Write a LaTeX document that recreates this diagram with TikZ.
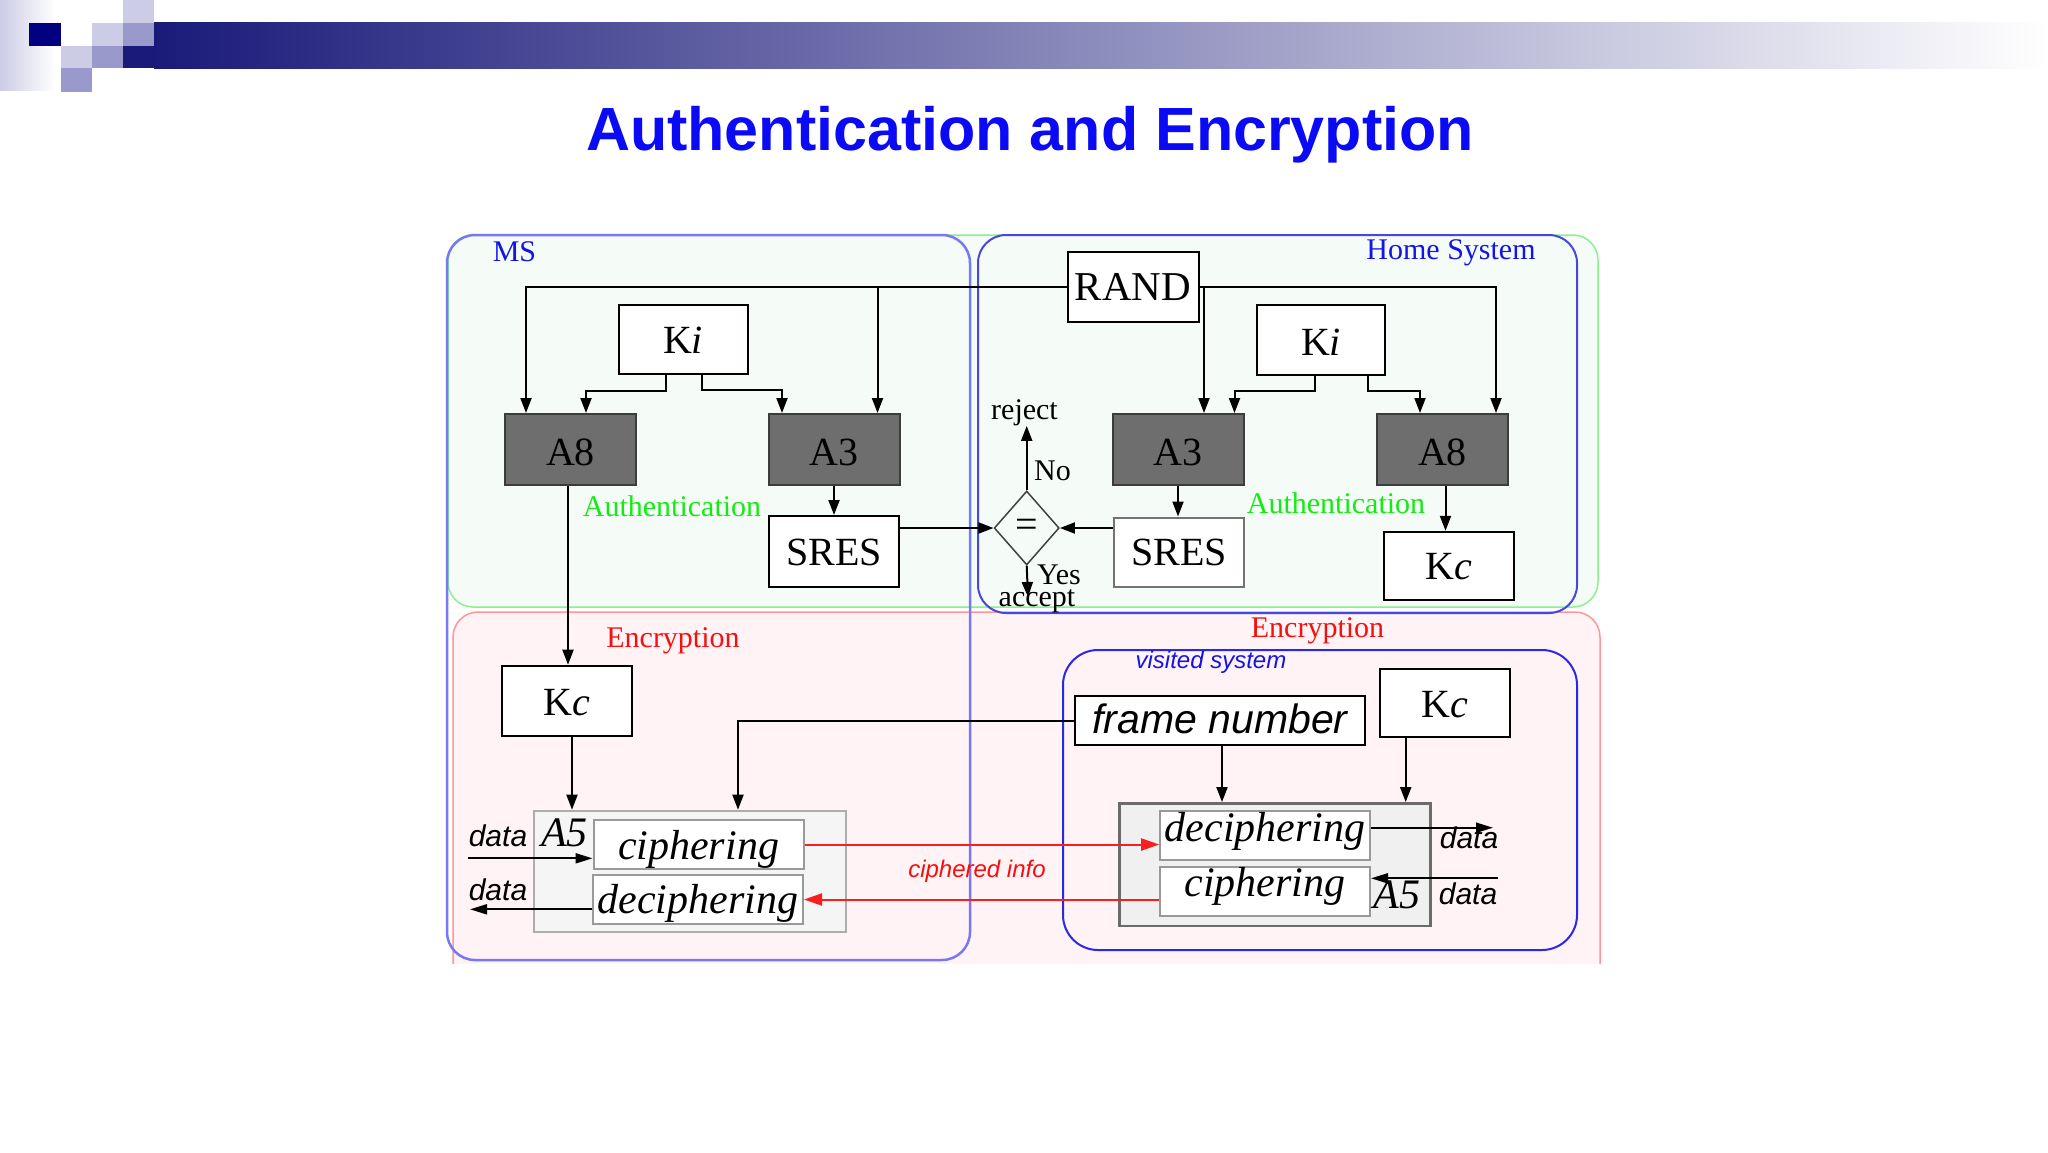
\documentclass[tikz,border=0pt]{standalone}
\usepackage{fontspec}
\setmainfont{Liberation Serif}
\newfontfamily\arialf{Liberation Sans}
\usetikzlibrary{arrows.meta,shapes.geometric}
\newcommand\myfs[1]{\fontsize{#1pt}{#1pt}\selectfont}
\definecolor{navyA}{RGB}{0,0,128}
\definecolor{lavL}{RGB}{204,204,230}
\definecolor{lavM}{RGB}{153,153,204}
\definecolor{barN}{RGB}{26,26,122}
\definecolor{barM}{RGB}{170,170,198}
\definecolor{titleblue}{RGB}{10,10,245}
\definecolor{mint}{RGB}{245,252,248}
\definecolor{pinkF}{RGB}{255,243,245}
\definecolor{greenL}{RGB}{140,240,140}
\definecolor{redL}{RGB}{255,150,150}
\definecolor{blueMS}{RGB}{120,120,245}
\definecolor{blueH}{RGB}{70,70,225}
\definecolor{blueV}{RGB}{40,40,230}
\definecolor{algogray}{RGB}{110,110,110}
\definecolor{algoborder}{RGB}{60,60,60}
\definecolor{txtgreen}{RGB}{20,235,20}
\definecolor{txtred}{RGB}{245,15,15}
\definecolor{txtblue}{RGB}{20,20,230}
\definecolor{arrred}{RGB}{250,30,30}
\begin{document}
\begin{tikzpicture}[x=1pt,y=-1pt,
  bl/.code={\pgfmathsetmacro\blh{20+#1}\pgfmathsetmacro\bld{20-#1}%
    \edef\blopts{text height=\blh pt,text depth=\bld pt}\expandafter\tikzset\expandafter{\blopts}},
  box/.style={draw=black, line width=2pt, fill=white, inner sep=0pt, font=\myfs{40}},
  algo/.style={box, fill=algogray, draw=algoborder, minimum width=131pt, minimum height=71pt, bl=15.5},
  cbox/.style={draw=black!40, line width=2pt, fill=white, inner sep=0pt,
    minimum width=210pt, minimum height=49pt, font=\itshape\myfs{42}},
  lab/.style={anchor=base, inner sep=0pt, font=\myfs{30}},
  conn/.style={line width=2pt, -{Triangle[length=15pt,width=11pt]}},
  darr/.style={line width=2pt, -{Triangle[length=17pt,width=10pt]}},
  redarr/.style={draw=arrred, line width=2pt, -{Triangle[length=18pt,width=12pt]}}]
\fill[white] (0,0) rectangle (2048,1152);
\useasboundingbox (0,0) rectangle (2048,1152);
% header decoration
\shade[left color=lavL, right color=white] (0,0) rectangle (55,90);
\fill[navyA] (29,23) rectangle (61,46);
\fill[lavL] (61,46) rectangle (92,68);
\fill[lavM] (61,68) rectangle (92,92);
\fill[lavL] (92,23) rectangle (123,46);
\fill[lavM] (92,46) rectangle (123,68);
\fill[lavL] (123,0) rectangle (154,23);
\fill[lavM] (123,23) rectangle (154,46);
\fill[barN] (123,46) rectangle (154,68.3);
\shade[left color=barN, middle color=barM, right color=white] (154,22.7) rectangle (2048,68.3);
% title
\node[font=\arialf\bfseries\myfs{61}, text=titleblue, anchor=base, inner sep=0pt] (title) at (1030,150) {Authentication and Encryption};
% regions
\fill[mint, draw=greenL, line width=1.5pt, rounded corners=25pt] (448,235) rectangle (1598,607);
\begin{scope}
\clip (0,0) rectangle (2048,963);
\fill[pinkF, draw=redL, line width=1.5pt, rounded corners=25pt] (453,612) rectangle (1600,1000);
\end{scope}
\draw[blueMS, line width=2.5pt, rounded corners=28pt] (447,235) rectangle (970,960);
\draw[blueH, line width=2pt, rounded corners=28pt] (978,235) rectangle (1577,613);
\draw[blueV, line width=2pt, rounded corners=35pt] (1063,650) rectangle (1577,950);
% region labels
\node[lab, text=txtblue] (ms) at (514.5,261.7) {MS};
\node[lab, text=txtblue] (home) at (1451,259) {Home System};
\node[lab, text=txtgreen] (authL) at (672,516.7) {Authentication};
\node[lab, text=txtgreen] (authR) at (1336,513.3) {Authentication};
\node[lab, text=txtred] (encL) at (673,647) {Encryption};
\node[lab, text=txtred] (encR) at (1317.5,637) {Encryption};
\node[lab, text=txtblue, font=\arialf\itshape\myfs{24}] (visited) at (1211,668) {visited system};
% boxes
\node[box, bl=13, minimum width=131pt, minimum height=70pt, font=\myfs{41}] (RAND) at (1133,287) {RAND};
\node[box, bl=13.8, minimum width=129pt, minimum height=69pt] (KiL) at (683,339.5) {K\textit{i}};
\node[box, bl=15, minimum width=128pt, minimum height=70pt] (KiR) at (1321,340) {K\textit{i}};
\node[algo] (A8L) at (570.5,449.5) {A8};
\node[algo] (A3L) at (834,449.5) {A3};
\node[algo] (A3R) at (1178,449.5) {A3};
\node[algo] (A8R) at (1442.5,449.5) {A8};
\node[box, bl=13.5, minimum width=130pt, minimum height=71pt] (SRESL) at (834,551.5) {SRES};
\node[box, bl=13, minimum width=130pt, minimum height=69pt, draw=black!55] (SRESR) at (1179,552) {SRES};
\node[box, bl=13.5, minimum width=130pt, minimum height=68pt] (KcH) at (1448.6,565.8) {K\textit{c}};
\node[box, bl=14.3, minimum width=130pt, minimum height=70pt] (KcL) at (567,700.7) {K\textit{c}};
\node[box, bl=12.8, minimum width=290pt, minimum height=49pt, font=\arialf\itshape\myfs{41}] (fn) at (1220,720.5) {frame number};
\node[box, bl=14, minimum width=130pt, minimum height=68pt] (KcR) at (1445,703) {K\textit{c}};
\node[draw=black!32, fill=black!4, line width=2pt, minimum width=312pt, minimum height=121pt, inner sep=0pt] (A5L) at (690,871.2) {};
\node[draw=black!58, fill=black!6, line width=2.5pt, minimum width=311pt, minimum height=122.7pt, inner sep=0pt] (A5R) at (1275.1,864.65) {};
\node[cbox, bl=14.8] (cL) at (698.5,844.5) {ciphering};
\node[cbox, bl=13.8] (dL) at (698,899.5) {deciphering};
\node[cbox, bl=6] (dR) at (1265.2,835.3) {deciphering};
\node[cbox, bl=5] (cR) at (1265,891) {ciphering};
\node[lab, font=\itshape\myfs{42}] (a5l) at (564.5,846.7) {A5};
\node[lab, font=\itshape\myfs{42}] (a5r) at (1397,908.3) {A5};
\node[lab, font=\arialf\itshape\myfs{30}] (dataL1) at (498,846.7) {data};
\node[lab, font=\arialf\itshape\myfs{30}] (dataL2) at (498,900) {data};
\node[lab, font=\arialf\itshape\myfs{30}] (dataR1) at (1469,848.3) {data};
\node[lab, font=\arialf\itshape\myfs{30}] (dataR2) at (1468,904) {data};
\node[lab, text=txtred, font=\arialf\itshape\myfs{24}] (ciphinfo) at (977,877.3) {ciphered info};
% comparison
\node[draw=black!75, diamond, minimum width=65pt, minimum height=74pt, inner sep=0pt, line width=1.5pt, font=\myfs{40}] (eq) at (1026.7,528) {=};
\node[lab] (reject) at (1024.5,419.3) {reject};
\node[lab] (no) at (1052.5,480) {No};
\node[lab] (yes) at (1059,584) {Yes};
\node[lab] (accept) at (1037,606.7) {accept};
% helper coordinates
\coordinate (pA8L) at ([xshift=-44.5pt]A8L.north);
\coordinate (pA3L) at ([xshift=43.5pt]A3L.north);
\coordinate (pA8R) at ([xshift=53.5pt]A8R.north);
\coordinate (pA3R) at ([xshift=26pt]A3R.north);
\coordinate (kA8L) at ([xshift=15.5pt]A8L.north);
\coordinate (kA3L) at ([xshift=-52pt]A3L.north);
\coordinate (kA3R) at ([xshift=56.5pt]A3R.north);
\coordinate (kA8R) at ([xshift=-22.5pt]A8R.north);
\coordinate (a8Ls) at ([xshift=-2.5pt]A8L.south);
\coordinate (a8Rs) at ([xshift=3pt]A8R.south);
\coordinate (kcLs) at ([xshift=5pt]KcL.south);
\coordinate (fnA5) at ([xshift=48pt]A5L.north);
\coordinate (fns) at ([xshift=2pt]fn.south);
\coordinate (kcRs) at ([xshift=-39.3pt]KcR.south);
\coordinate (acctip) at (1028,597);
\coordinate (dinL) at (468,858.3);
\coordinate (doutL) at (470,909.3);
\coordinate (doutR) at (1493,827.7);
\coordinate (dinR) at (1497.7,878.3);
% RAND connectors
\draw[conn] (RAND.west) -| (pA8L);
\draw[conn] (pA3L |- RAND.west) -- (pA3L);
\draw[conn] (RAND.east) -| (pA8R);
\draw[conn] (pA3R |- RAND.east) -- (pA3R);
% Ki connectors
\draw[conn] ([xshift=-17pt]KiL.south) -- ++(0,16) -| (kA8L);
\draw[conn] ([xshift=19pt]KiL.south) -- ++(0,15) -| (kA3L);
\draw[conn] ([xshift=-6pt]KiR.south) -- ++(0,15) -| (kA3R);
\draw[conn] ([xshift=47pt]KiR.south) -- ++(0,15) -| (kA8R);
% algorithms to results
\draw[conn] (A3L.south) -- (SRESL.north);
\draw[conn] (A3R.south) -- (A3R.south |- SRESR.north);
\draw[conn] (SRESL.east |- eq.west) -- (eq.west);
\draw[conn] (SRESR.west |- eq.east) -- (eq.east);
\draw[conn] (eq.north) -- (eq.north |- reject.south);
\draw[conn] (eq.south) -- (acctip);
\draw[conn] (a8Ls) -- (a8Ls |- KcL.north);
\draw[conn] (a8Rs) -- (a8Rs |- KcH.north);
% encryption
\draw[conn] (kcLs) -- (kcLs |- A5L.north);
\draw[conn] (fn.west) -| (fnA5);
\draw[conn] (fns) -- (fns |- A5R.north);
\draw[conn] (kcRs) -- (kcRs |- A5R.north);
\draw[redarr] (cL.east) -- (cL.east -| dR.west);
\draw[redarr] (cR.west |- dL.east) -- (dL.east);
\draw[darr] (dinL) -- (dinL -| cL.west);
\draw[darr] (dL.west |- doutL) -- (doutL);
\draw[darr] (dR.east |- doutR) -- (doutR);
\draw[darr] (dinR) -- (dinR -| cR.east);
\end{tikzpicture}
\end{document}
